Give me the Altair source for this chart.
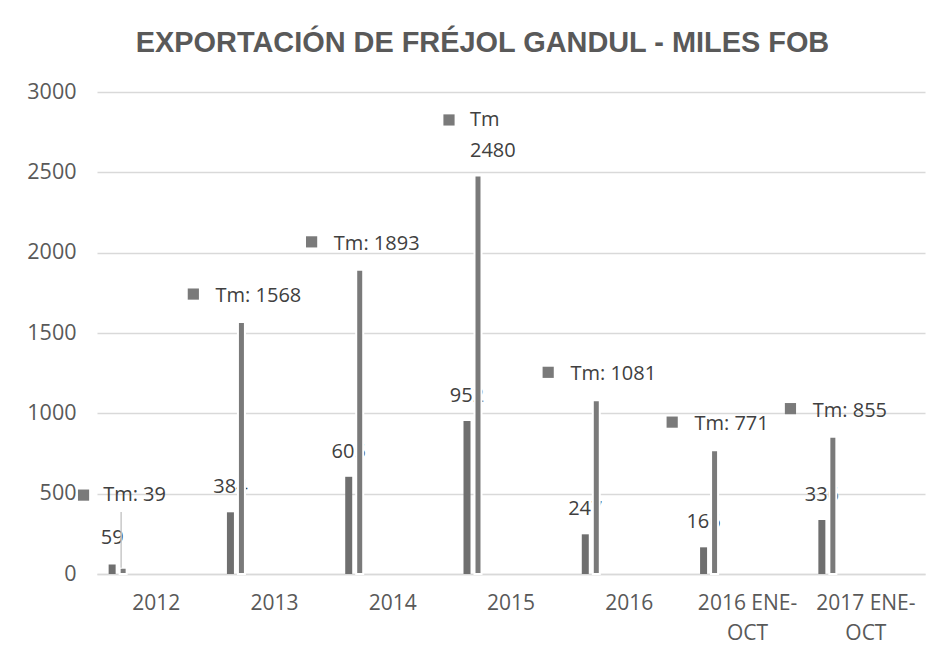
import altair as alt
import pandas as pd

# ---- data ----
categories = ["2012", "2013", "2014", "2015", "2016", "2016 ENE-OCT", "2017 ENE-OCT"]
fob = [59, 384, 605, 952, 247, 166, 336]          # first (shorter) series
tm = [39, 1568, 1893, 2480, 1081, 771, 855]       # Tm series

# Excel data labels that were dragged by hand (position on the value axis)
fob_label_moved = {"2012": 224}
tm_label_moved = {"2012": 491, "2015": 2826}
tm_key_moved = {"2012": 491, "2015": 2826}
leader_top = {"2012": 386}

# ---- layout constants ----
W, H = 828, 482
BAND = W / len(categories)
FOB_DX, TM_DX = -44, -33
FONT = "Open Sans"
TXT = "#404040"
AX = "#595959"

rows = []
for c, f, t in zip(categories, fob, tm):
    lab = f"Tm: {t}"
    r = dict(cat=c, fob=f, tm=t, fob_text=str(f))
    if c in tm_label_moved:
        r["manual"] = True
        r["tm_text"] = ["Tm", str(t)] if c == "2015" else lab
        r["tm_lab_y"] = tm_label_moved[c]
        r["key_y"] = tm_key_moved[c]
        r["tx_dx"] = -41 if c == "2015" else -53
        r["sq_dx"] = -62 if c == "2015" else -72.6
    else:
        r["manual"] = False
        r["tm_text"] = lab
        r["tm_lab_y"] = t
        r["key_y"] = t
        r["tx_dx"] = -16
        r["sq_dx"] = -16 - 0.5 * (20 + 11.4 * len(lab)) - 9.5
    r["fob_manual"] = c in fob_label_moved
    r["fob_lab_y"] = fob_label_moved.get(c, f)
    r["leader_top"] = leader_top.get(c)
    rows.append(r)
df = pd.DataFrame(rows)

xs = alt.X("cat:N", sort=categories, title=None,
           scale=alt.Scale(paddingInner=0, paddingOuter=0),
           axis=alt.Axis(labelAngle=0, ticks=False, domainColor="#d9d9d9", domainWidth=1.5,
                         labelFont=FONT, labelFontSize=21, labelColor=AX, labelPadding=18,
                         labelLineHeight=30,
                         labelExpr="length(datum.label) > 6 ? [slice(datum.label, 0, 9), slice(datum.label, 9)] : datum.label"))
yscale = alt.Scale(domain=[0, 3000], nice=False)
ys = lambda f: alt.Y(f, title=None, scale=yscale,
                     axis=alt.Axis(values=[0, 500, 1000, 1500, 2000, 2500, 3000], domain=False, ticks=False,
                                   format="d", gridColor="#d9d9d9", gridWidth=1.5, labelFont=FONT,
                                   labelFontSize=21.5, labelColor=AX, labelPadding=21))
xoff = lambda f: alt.XOffset(f, type="quantitative",
                             scale=alt.Scale(domain=[-BAND / 2, BAND / 2], range=[0, BAND]))

base = alt.Chart(df)

fob_bars = base.mark_bar(width=7, xOffset=FOB_DX, color="#6f6f6f").encode(x=xs, y=ys("fob:Q"))
fob_labels = base.transform_filter("!datum.fob_manual").mark_text(
    xOffset=FOB_DX, dy=-25, font=FONT, fontSize=20, color=TXT, baseline="middle", align="center"
).encode(x=xs, y=ys("fob_lab_y:Q"), text="fob_text:N")
fob_labels_m = base.transform_filter("datum.fob_manual").mark_text(
    xOffset=FOB_DX, font=FONT, fontSize=20, color=TXT, baseline="middle", align="center"
).encode(x=xs, y=ys("fob_lab_y:Q"), text="fob_text:N")

tm_bars = base.mark_bar(width=7, xOffset=TM_DX, color="#7a7a7a", stroke="white", strokeWidth=2).encode(
    x=xs, y=ys("tm:Q"))

tm_labels = base.transform_filter("!datum.manual").mark_text(
    dy=-26, font=FONT, fontSize=20, color=TXT, baseline="middle", align="center"
).encode(x=xs, xOffset=xoff("tx_dx"), y=ys("tm_lab_y:Q"), text="tm_text")
tm_labels_m = base.transform_filter("datum.manual").mark_text(
    font=FONT, fontSize=20, color=TXT, baseline="middle", align="left", lineHeight=31
).encode(x=xs, xOffset=xoff("tx_dx"), y=ys("tm_lab_y:Q"), text="tm_text")

keys = base.transform_filter("!datum.manual").mark_square(
    size=125, color="#7a7a7a", opacity=1, yOffset=-28
).encode(x=xs, xOffset=xoff("sq_dx"), y=ys("key_y:Q"))
keys_m = base.transform_filter("datum.manual").mark_square(
    size=125, color="#7a7a7a", opacity=1
).encode(x=xs, xOffset=xoff("sq_dx"), y=ys("key_y:Q"))

leader = base.transform_filter("datum.leader_top != null").mark_rule(
    xOffset=-35, color="#c8c8c8", strokeWidth=1.5
).encode(x=xs, y=ys("tm:Q"), y2="leader_top:Q")

chart = alt.layer(
    fob_bars, fob_labels, fob_labels_m, tm_bars, leader, tm_labels, tm_labels_m, keys, keys_m
).properties(
    width=W, height=H,
    title=alt.TitleParams("EXPORTACIÓN DE FRÉJOL GANDUL - MILES FOB", font="Liberation Sans",
                          fontSize=28.9, fontWeight="bold", color=AX, anchor="middle", frame="group",
                          dx=-28.5, offset=23),
    autosize=alt.AutoSizeParams(type="none"),
    padding={"left": 89, "top": 84, "right": 10, "bottom": 79},
    background="white",
).configure_view(stroke=None)

chart.save("out.html", embed_options={"renderer": "svg", "actions": False})
